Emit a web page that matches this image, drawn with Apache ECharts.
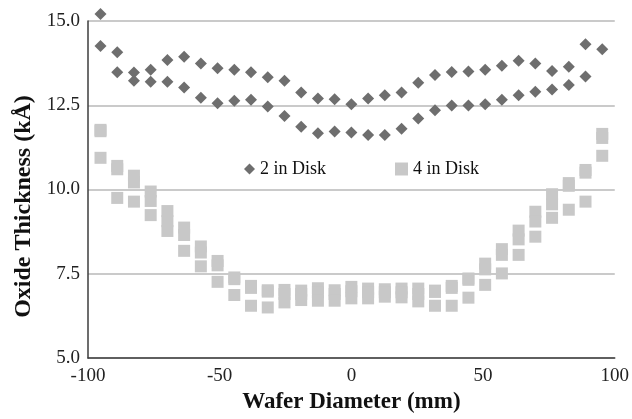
<!DOCTYPE html>
<html>
<head>
<meta charset="utf-8">
<script src="https://cdn.jsdelivr.net/npm/echarts@6/dist/echarts.min.js"></script>
<style>
  html, body { margin: 0; padding: 0; background: #fff; }
  #chart { width: 632px; height: 419px; }
</style>
</head>
<body>
<div id="chart"></div>
<script>
// Measurement positions across the wafer (mm), quarter-inch spacing
const positions = [-95.25, -88.9, -82.55, -76.2, -69.85, -63.5, -57.15, -50.8, -44.45, -38.1,
  -31.75, -25.4, -19.05, -12.7, -6.35, 0, 6.35, 12.7, 19.05, 25.4,
  31.75, 38.1, 44.45, 50.8, 57.15, 63.5, 69.85, 76.2, 82.55, 88.9, 95.25];

// 2 in disk: two scans per position (kÅ)
const disk2ScanA = [15.21, 14.07, 13.47, 13.55, 13.84, 13.94, 13.74, 13.60, 13.55, 13.48,
  13.33, 13.23, 12.88, 12.70, 12.68, 12.53, 12.70, 12.80, 12.88, 13.17,
  13.40, 13.49, 13.50, 13.55, 13.67, 13.82, 13.74, 13.52, 13.64, 14.31, 14.16];
const disk2ScanB = [14.26, 13.48, 13.23, 13.20, 13.20, 13.03, 12.72, 12.56, 12.63, 12.66,
  12.46, 12.18, 11.86, 11.67, 11.72, 11.69, 11.62, 11.62, 11.80, 12.11,
  12.35, 12.49, 12.49, 12.53, 12.66, 12.80, 12.90, 12.97, 13.10, 13.35, null];

// 4 in disk: three scans per position (kÅ)
const disk4ScanA = [11.77, 10.70, 10.41, 9.94, 9.36, 8.87, 8.31, 7.88, 7.39, 7.14,
  7.01, 7.02, 7.00, 7.07, 7.01, 7.11, 7.06, 7.04, 7.06, 7.06,
  7.00, 7.14, 7.36, 7.80, 8.23, 8.78, 9.34, 9.86, 10.19, 10.58, 11.65];
const disk4ScanB = [11.73, 10.60, 10.21, 9.66, 9.06, 8.65, 8.13, 7.75, 7.34, 7.08,
  6.97, 6.90, 6.90, 6.95, 6.90, 6.98, 6.95, 6.95, 6.95, 6.90,
  6.96, 7.08, 7.32, 7.63, 8.06, 8.52, 9.05, 9.56, 10.11, 10.50, 11.53];
const disk4ScanC = [10.94, 9.75, 9.64, 9.24, 8.77, 8.18, 7.72, 7.26, 6.87, 6.55,
  6.50, 6.65, 6.72, 6.70, 6.70, 6.77, 6.77, 6.82, 6.80, 6.68,
  6.55, 6.55, 6.79, 7.17, 7.51, 8.06, 8.60, 9.16, 9.40, 9.64, 11.00];

const yTicks = { min: 5, max: 15, step: 2.5 };
const xTicks = { min: -100, max: 100, step: 50 };

function pairs(xs, ...rows) {
  const out = [];
  rows.forEach(row => row.forEach((v, i) => { if (v != null) out.push([xs[i], v]); }));
  return out;
}

const serif = '"Liberation Serif", "Times New Roman", serif';
const chart = echarts.init(document.getElementById('chart'));

chart.setOption({
  animation: false,
  backgroundColor: '#fff',
  grid: { left: 88, right: 17, top: 21, bottom: 61, containLabel: false },
  legend: [
    {
      left: 239, top: 155,
      data: [{ name: '2 in Disk', icon: 'diamond' }],
      itemWidth: 11, itemHeight: 11,
      textStyle: { fontFamily: serif, fontSize: 18, color: '#111' },
      selectedMode: false
    },
    {
      left: 390, top: 155,
      data: [{ name: '4 in Disk', icon: 'rect' }],
      itemWidth: 13, itemHeight: 13,
      textStyle: { fontFamily: serif, fontSize: 18, color: '#111' },
      selectedMode: false
    }
  ],
  xAxis: {
    type: 'value',
    min: xTicks.min, max: xTicks.max, interval: xTicks.step,
    name: 'Wafer Diameter (mm)',
    nameLocation: 'middle', nameGap: 30,
    nameTextStyle: { fontFamily: serif, fontSize: 23, fontWeight: 'bold', color: '#111' },
    axisLine: { onZero: false, lineStyle: { color: '#3c3c3c', width: 1.5 } },
    axisTick: { show: false },
    axisLabel: { fontFamily: serif, fontSize: 19, color: '#222', margin: 9 },
    splitLine: { show: false }
  },
  yAxis: {
    type: 'value',
    min: yTicks.min, max: yTicks.max, interval: yTicks.step,
    name: 'Oxide Thickness (kÅ)',
    nameLocation: 'middle', nameGap: 45,
    nameTextStyle: {
      fontFamily: serif, fontSize: 24, fontWeight: 'bold', color: '#111',
      padding: [0, 34, 0, 0]
    },
    axisLine: { show: true, onZero: false, lineStyle: { color: '#3c3c3c', width: 1.5 } },
    axisTick: { show: false },
    axisLabel: {
      fontFamily: serif, fontSize: 19, color: '#222', margin: 8,
      formatter: v => v.toFixed(1)
    },
    splitLine: { show: true, lineStyle: { color: '#b8b8b8', width: 1.5 } }
  },
  series: [
    {
      name: '4 in Disk',
      type: 'scatter',
      symbol: 'rect',
      symbolSize: 12,
      clip: false,
      itemStyle: { color: '#c8c8c8', opacity: 1 },
      data: pairs(positions, disk4ScanA, disk4ScanB, disk4ScanC)
    },
    {
      name: '2 in Disk',
      type: 'scatter',
      symbol: 'diamond',
      symbolSize: 12,
      clip: false,
      itemStyle: { color: '#6e6e6e', opacity: 1 },
      data: pairs(positions, disk2ScanA, disk2ScanB)
    }
  ]
});
</script>
</body>
</html>
